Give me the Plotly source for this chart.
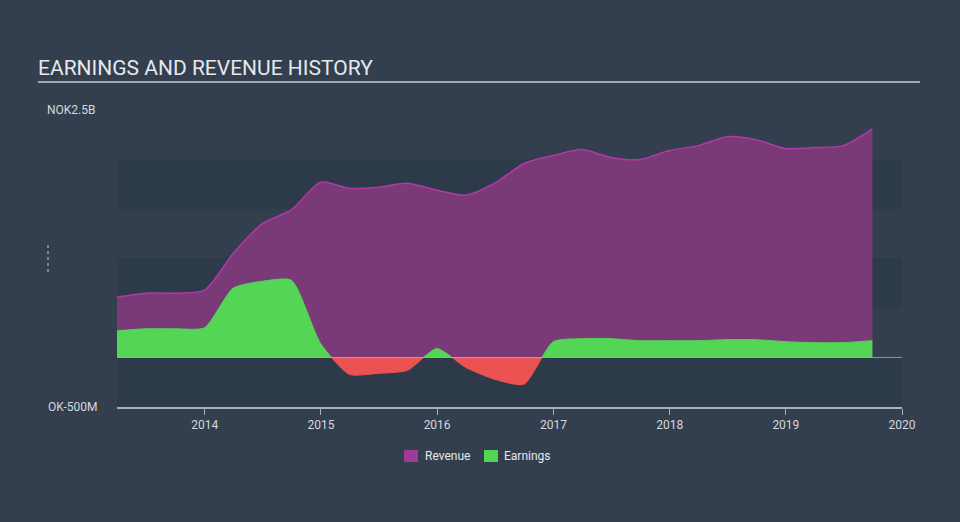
import plotly.graph_objects as go

dates = ["2013-03-31", "2013-06-30", "2013-09-30", "2013-12-31",
         "2014-03-31", "2014-06-30", "2014-09-30", "2014-12-31",
         "2015-03-31", "2015-06-30", "2015-09-30", "2015-12-31",
         "2016-03-31", "2016-06-30", "2016-09-30", "2016-12-31",
         "2017-03-31", "2017-06-30", "2017-09-30", "2017-12-31",
         "2018-03-31", "2018-06-30", "2018-09-30", "2018-12-31",
         "2019-03-31", "2019-06-30", "2019-09-30"]
revenue = [0.61, 0.65, 0.65, 0.68,
           1.05, 1.35, 1.49, 1.77,
           1.71, 1.72, 1.76, 1.69,
           1.64, 1.76, 1.96, 2.04,
           2.10, 2.02, 2.00, 2.09,
           2.14, 2.23, 2.20, 2.11,
           2.12, 2.14, 2.31]
earnings = [0.27, 0.29, 0.29, 0.30,
            0.70, 0.77, 0.78, 0.14,
            -0.17, -0.16, -0.13, 0.09,
            -0.10, -0.22, -0.27, 0.16,
            0.19, 0.19, 0.17, 0.17,
            0.17, 0.18, 0.18, 0.16,
            0.15, 0.15, 0.17]

year_ticks = ["2014-01-01", "2015-01-01", "2016-01-01", "2017-01-01",
              "2018-01-01", "2019-01-01", "2020-01-01"]
year_labels = ["2014", "2015", "2016", "2017", "2018", "2019", "2020"]

legend_names = ["Revenue", "Earnings"]

BG = "#333f4f"
BAND = "#2d3a4a"
REV_FILL = "#7a3a78"
REV_LINE = "#b03aa3"
REV_SWATCH = "#a03a98"
GREEN = "#53d655"
RED = "#eb5252"

L, R, T, B = 117, 58, 110, 115
PW, PH = 960 - L - R, 522 - T - B


def px_x(x):
    return (x - L) / PW


def px_y(y):
    return (522 - B - y) / PH


fig = go.Figure()

fig.add_trace(go.Scatter(
    x=dates, y=revenue, mode="lines", name="Revenue",
    line=dict(color=REV_LINE, width=1.5, shape="spline", smoothing=0.7),
    fill="tozeroy", fillcolor=REV_FILL, xaxis="x", yaxis="y",
    showlegend=False, hoverinfo="skip"))
fig.add_trace(go.Scatter(
    x=dates, y=earnings, mode="lines", name="Earnings",
    line=dict(color=GREEN, width=1, shape="spline", smoothing=0.6),
    fill="tozeroy", fillcolor=GREEN, xaxis="x", yaxis="y",
    showlegend=False, hoverinfo="skip"))
fig.add_trace(go.Scatter(
    x=dates, y=earnings, mode="lines", name="Earnings (loss)",
    line=dict(color=RED, width=1, shape="spline", smoothing=0.6),
    fill="tozeroy", fillcolor=RED, xaxis="x", yaxis="y2",
    showlegend=False, hoverinfo="skip"))

shapes = [
    dict(type="rect", xref="paper", x0=0, x1=1, yref="y", y0=0.5, y1=1.0,
         fillcolor=BAND, line_width=0, layer="below"),
    dict(type="rect", xref="paper", x0=0, x1=1, yref="y", y0=1.5, y1=2.0,
         fillcolor=BAND, line_width=0, layer="below"),
    dict(type="rect", xref="paper", x0=0, x1=1, yref="y2", y0=-0.5, y1=0,
         fillcolor=BAND, line_width=0, layer="below"),
    dict(type="line", xref="paper", x0=0, x1=1, yref="y", y0=0, y1=0,
         line=dict(color="#e8e8e8", width=1), layer="above"),
    dict(type="line", xref="paper", yref="paper",
         x0=px_x(38), x1=px_x(920), y0=px_y(82), y1=px_y(82),
         line=dict(color="#c8ccd2", width=1.5)),
    dict(type="line", xref="paper", yref="paper",
         x0=px_x(48), x1=px_x(48), y0=px_y(272), y1=px_y(245),
         line=dict(color="#c8ccd2", width=1, dash="dot")),
    # legend swatches
    dict(type="rect", xref="paper", yref="paper",
         x0=px_x(404), x1=px_x(418), y0=px_y(462), y1=px_y(450),
         fillcolor=REV_SWATCH, line_width=0),
    dict(type="rect", xref="paper", yref="paper",
         x0=px_x(484), x1=px_x(498), y0=px_y(462), y1=px_y(450),
         fillcolor=GREEN, line_width=0),
]

annotations = [
    dict(text="EARNINGS AND REVENUE HISTORY", xref="paper", yref="paper",
         x=px_x(36), y=px_y(68), xanchor="left", yanchor="middle",
         showarrow=False, font=dict(family="Roboto", size=21, color="#e6e8eb")),
    dict(text="NOK2.5B", xref="paper", yref="paper",
         x=px_x(45), y=px_y(110), xanchor="left", yanchor="middle",
         showarrow=False, font=dict(family="Roboto", size=12, color="#d5d8dc")),
    dict(text="OK-500M", xref="paper", yref="paper",
         x=px_x(46), y=px_y(407), xanchor="left", yanchor="middle",
         showarrow=False, font=dict(family="Roboto", size=12, color="#d5d8dc")),
    dict(text=legend_names[0], xref="paper", yref="paper",
         x=px_x(423), y=px_y(456), xanchor="left", yanchor="middle",
         showarrow=False, font=dict(family="Roboto", size=12, color="#e6e8eb")),
    dict(text=legend_names[1], xref="paper", yref="paper",
         x=px_x(502), y=px_y(456), xanchor="left", yanchor="middle",
         showarrow=False, font=dict(family="Roboto", size=12, color="#e6e8eb")),
]

fig.update_layout(
    width=960, height=522,
    margin=dict(l=L, r=R, t=T, b=B),
    paper_bgcolor=BG, plot_bgcolor=BG,
    font=dict(family="Roboto", color="#d5d8dc", size=12),
    shapes=shapes, annotations=annotations,
    xaxis=dict(type="date", range=["2013-03-31", "2020-01-01"],
               tickvals=year_ticks, ticktext=year_labels,
               showgrid=False, zeroline=False,
               showline=True, linecolor="#a9b0ba", linewidth=1.5,
               ticks="outside", ticklen=6, tickcolor="#a9b0ba", tickwidth=1,
               anchor="y2", tickfont=dict(size=12, color="#d5d8dc"),
               fixedrange=True),
    yaxis=dict(domain=[0.5 / 3, 1], range=[0, 2.5], visible=False,
               showgrid=False, zeroline=False, fixedrange=True),
    yaxis2=dict(domain=[0, 0.5 / 3], range=[-0.5, 0], visible=False,
                showgrid=False, zeroline=False, fixedrange=True),
    showlegend=False,
)

fig.write_html("out.html")
